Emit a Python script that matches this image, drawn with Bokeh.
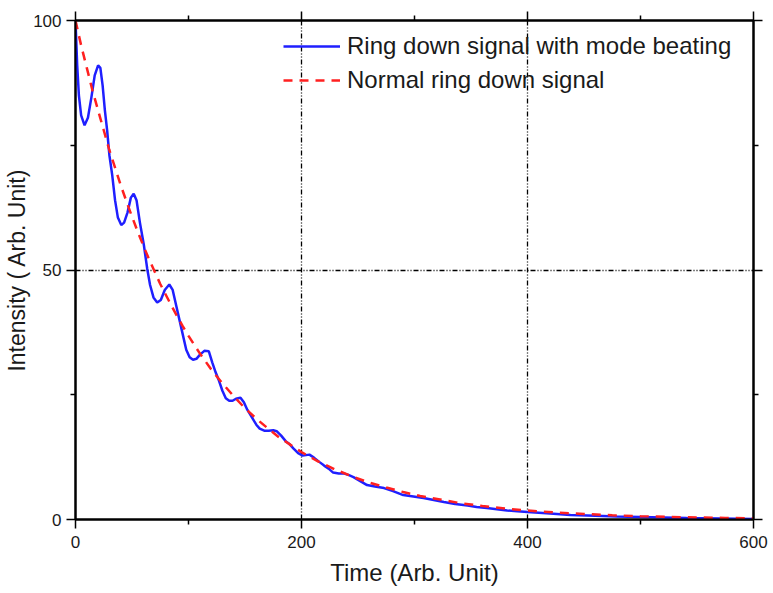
from bokeh.plotting import figure
from bokeh.models import LinearAxis, FixedTicker, Legend, LegendItem, Range1d
from bokeh.embed import file_html
from bokeh.resources import INLINE

# Data
t_beat = [0, 1.5, 3, 5, 8, 11, 14, 17, 20, 22, 24, 26, 28, 30, 32.5, 35, 37.5, 40.5, 43, 46,
          49, 51.5, 54, 57, 60.5, 63.5, 66, 69, 72.3, 75.5, 79, 83, 86, 89, 92, 95, 98, 101,
          104, 107, 110, 114, 118, 121, 124, 127, 130, 133, 136, 139, 142, 146, 149, 152, 156,
          160, 163, 167, 171, 175, 178, 182, 186, 189, 193, 197, 201, 204, 207, 211, 216, 220,
          224, 228, 233, 238, 242, 246, 252, 258, 265, 273, 281, 290, 299, 308, 317, 326, 336,
          347, 355, 364, 373, 382, 391, 400, 420, 438, 460, 479, 510, 541, 570, 600]
i_beat = [100, 91, 85, 81, 79, 80.5, 84.5, 89, 91, 90.5, 87, 82, 78, 73, 69, 64, 60.5, 59, 59.5, 61.5,
          64.5, 65.3, 64, 59.5, 55, 50.2, 47, 44.5, 43.5, 44, 46, 47.1, 46, 43, 40, 37, 34, 32.5,
          32, 32.2, 33, 33.8, 33.7, 31.5, 29.5, 27.8, 25.8, 24.3, 23.8, 23.8, 24.2, 24.4, 23.5, 22, 20.5,
          19, 18.2, 17.8, 17.8, 17.9, 17.7, 16.8, 15.7, 15.2, 14.2, 13.3, 12.8, 12.9, 13.0, 12.4, 11.5, 10.8,
          10.2, 9.4, 9.2, 9.2, 8.9, 8.5, 7.7, 6.9, 6.6, 6.3, 5.7, 4.9, 4.6, 4.3, 3.9, 3.5, 3.1,
          2.8, 2.5, 2.3, 2.05, 1.8, 1.65, 1.5, 1.2, 0.9, 0.75, 0.6, 0.45, 0.3, 0.2, 0.1]

t_norm = [0, 5, 10, 15, 20, 25, 30, 35, 40, 45, 50, 55, 60, 65, 70, 75, 80, 85, 90, 95, 100,
          110, 120, 130, 140, 150, 160, 170, 180, 190, 200, 215, 230, 245, 260, 275, 290, 305,
          320, 340, 360, 380, 400, 425, 450, 475, 500, 525, 550, 575, 600]
i_norm = [100, 95, 90.5, 86, 82, 78, 74, 70.5, 67, 63.8, 60.7, 57.7, 54.9, 52.2, 49.7, 47.2, 45, 42.8,
          40.7, 38.7, 36.8, 33.3, 30.1, 27.3, 24.7, 22.3, 20.2, 18.3, 16.5, 15, 13.5, 11.6, 10, 8.6,
          7.4, 6.4, 5.5, 4.7, 4.1, 3.3, 2.7, 2.2, 1.8, 1.4, 1.1, 0.85, 0.67, 0.52, 0.41, 0.32, 0.25]

x_major = [0, 200, 400, 600]
x_minor = [100, 300, 500]
y_major = [0, 50, 100]
y_minor = [25, 75]
x_title = "Time (Arb. Unit)"
y_title = "Intensity ( Arb. Unit)"
name_beat = "Ring down signal with mode beating"
name_norm = "Normal ring down signal"

FONT = "Liberation Sans"

p = figure(width=773, height=593, output_backend="svg", toolbar_location=None,
           x_range=Range1d(0, 600), y_range=Range1d(0, 100),
           min_border_left=75, min_border_right=20, min_border_top=20, min_border_bottom=74)
p.background_fill_color = "white"
p.border_fill_color = "white"
p.outline_line_color = "black"
p.outline_line_width = 2


def style_axis(ax, show_labels):
    ax.axis_line_color = "black"
    ax.axis_line_width = 2
    ax.major_tick_line_color = "black"
    ax.minor_tick_line_color = "black"
    ax.major_tick_line_width = 1.5
    ax.minor_tick_line_width = 1.5
    ax.major_tick_in = 0
    ax.minor_tick_in = 0
    ax.major_tick_out = 9
    ax.minor_tick_out = 5
    if show_labels:
        ax.major_label_text_font = FONT
        ax.major_label_text_font_size = "17px"
        ax.major_label_text_color = "#1a1a1a"
        ax.axis_label_text_font = FONT
        ax.axis_label_text_font_style = "normal"
        ax.axis_label_text_color = "#1a1a1a"


p.xaxis.ticker = FixedTicker(ticks=x_major, minor_ticks=x_minor)
p.yaxis.ticker = FixedTicker(ticks=y_major, minor_ticks=y_minor)
style_axis(p.xaxis[0], True)
style_axis(p.yaxis[0], True)
p.xaxis.axis_label = x_title
p.yaxis.axis_label = y_title
p.xaxis.major_label_standoff = 7
p.yaxis.major_label_standoff = 5
p.xaxis.axis_label_text_font_size = "24px"
p.yaxis.axis_label_text_font_size = "23px"
p.xaxis.axis_label_standoff = 8
p.yaxis.axis_label_standoff = 0

top_ax = LinearAxis(ticker=FixedTicker(ticks=x_major, minor_ticks=x_minor),
                    major_label_overrides={v: "" for v in x_major})
style_axis(top_ax, False)
p.add_layout(top_ax, "above")
right_ax = LinearAxis(ticker=FixedTicker(ticks=y_major, minor_ticks=y_minor),
                      major_label_overrides={v: "" for v in y_major})
style_axis(right_ax, False)
p.add_layout(right_ax, "right")

p.xgrid.ticker = FixedTicker(ticks=[200, 400])
p.ygrid.ticker = FixedTicker(ticks=[50])
for g in (p.xgrid[0], p.ygrid[0]):
    g.grid_line_color = "black"
    g.grid_line_width = 1.3
    g.grid_line_dash = "5 2 1 2 1 2"

r_beat = p.line(t_beat, i_beat, line_color="#1f1fff", line_width=2.5)
r_norm = p.line(t_norm, i_norm, line_color="#ff2020", line_width=2.5, line_dash="9 7")

legend = Legend(items=[LegendItem(label=name_beat, renderers=[r_beat]),
                       LegendItem(label=name_norm, renderers=[r_norm])],
                location=(208, 422))
legend.background_fill_alpha = 0
legend.border_line_color = None
legend.padding = 0
legend.margin = 0
legend.spacing = 0
legend.glyph_width = 57
legend.glyph_height = 34
legend.label_height = 34
legend.label_standoff = 7
legend.label_text_font = FONT
legend.label_text_font_size = "24px"
legend.label_text_color = "#1a1a1a"
p.add_layout(legend, "center")

open("out.html", "w").write(file_html(p, INLINE))
